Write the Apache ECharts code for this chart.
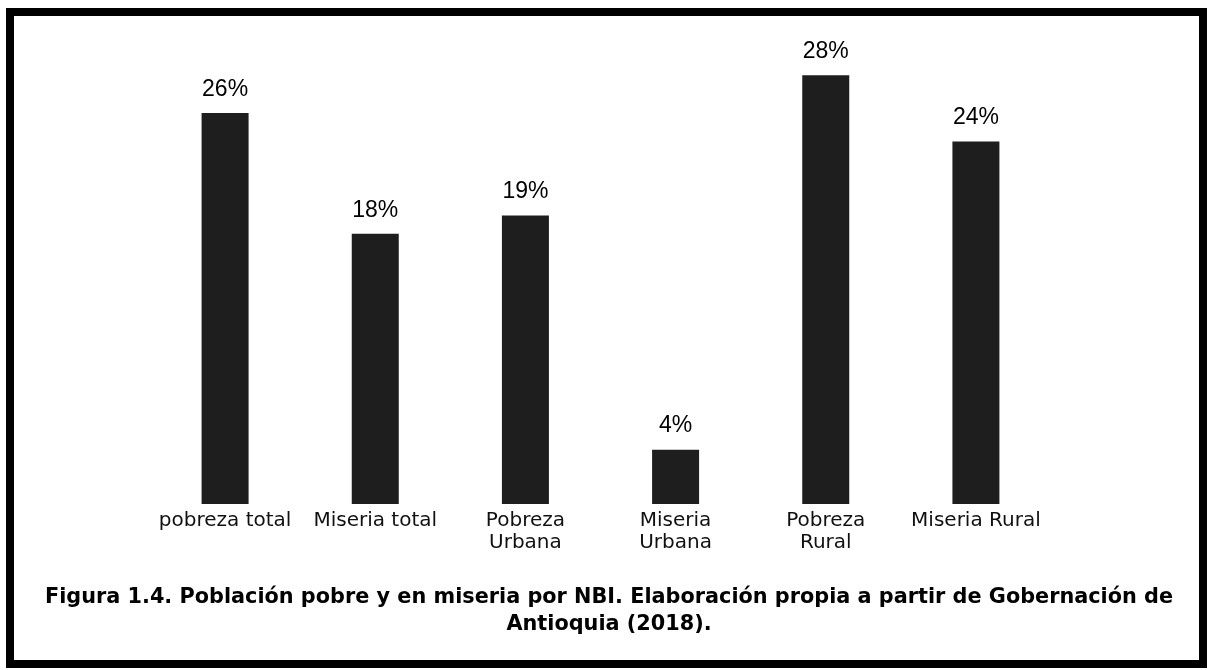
<!DOCTYPE html>
<html lang="es">
<head>
    <meta charset="UTF-8">
    <title>Población pobre y en miseria por NBI</title>
    <script type="text/javascript" src="https://cdn.jsdelivr.net/npm/echarts@6/dist/echarts.min.js"></script>
    <style>
        html, body { margin: 0; padding: 0; background: #fff; }
        #chart { width: 1209px; height: 670px; }
    </style>
</head>
<body>
<div id="chart"></div>
<script>
    // categorias del eje x
    var categorias = ['pobreza total', 'Miseria total', 'Pobreza\nUrbana', 'Miseria\nUrbana', 'Pobreza\nRural', 'Miseria Rural'];
    // porcentaje de poblacion (estimado de la altura de las barras, etiqueta redondeada)
    var valores = [25.9, 17.9, 19.1, 3.6, 28.4, 24.0];
    var titulo = 'Figura 1.4. Población pobre y en miseria por NBI. Elaboración propia a partir de Gobernación de\nAntioquia (2018).';

    var myChart = echarts.init(document.getElementById('chart'));
    var option = {
        backgroundColor: '#fff',
        animation: false,
        textStyle: { fontFamily: 'Liberation Sans, Arial, sans-serif' },
        title: {
            text: titulo,
            left: 604,
            top: 579,
            textAlign: 'center',
            textStyle: {
                fontFamily: 'DejaVu Sans',
                fontSize: 20.8,
                fontWeight: 'bold',
                color: '#000',
                lineHeight: 27
            }
        },
        grid: { left: 150, right: 158, top: 51, bottom: 166 },
        xAxis: {
            type: 'category',
            data: categorias,
            axisLine: { show: false },
            axisTick: { show: false },
            axisLabel: {
                interval: 0,
                margin: 6,
                fontFamily: 'DejaVu Sans',
                fontSize: 20,
                lineHeight: 22,
                color: '#111'
            }
        },
        yAxis: {
            type: 'value',
            min: 0,
            max: 30,
            show: false
        },
        series: [{
            type: 'bar',
            data: valores,
            barWidth: 47,
            itemStyle: { color: '#1e1e1e' },
            label: {
                show: true,
                position: 'top',
                distance: 12,
                fontSize: 23,
                color: '#000',
                formatter: function (p) { return Math.round(p.value) + '%'; }
            }
        }],
        graphic: [{
            type: 'rect',
            shape: { x: 10, y: 12, width: 1193, height: 652 },
            style: { fill: 'none', stroke: '#000', lineWidth: 8 }
        }]
    };
    myChart.setOption(option);
</script>
</body>
</html>
